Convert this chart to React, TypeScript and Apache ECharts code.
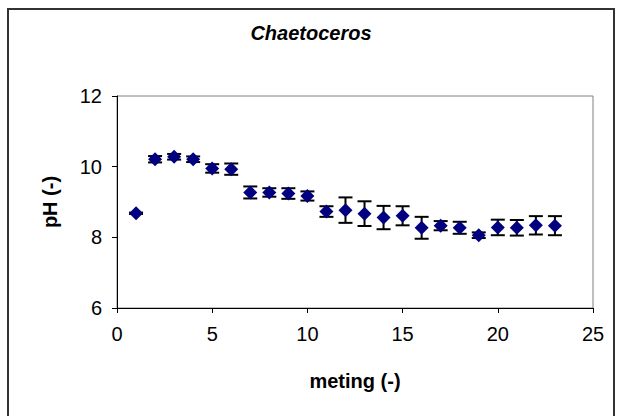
import React, { useEffect, useRef } from "react";
import * as echarts from "echarts";

const meting = [1, 2, 3, 4, 5, 6, 7, 8, 9, 10, 11, 12, 13, 14, 15, 16, 17, 18, 19, 20, 21, 22, 23];
const phValues = [8.68, 10.21, 10.28, 10.21, 9.95, 9.93, 9.27, 9.27, 9.24, 9.17, 8.73, 8.77, 8.67, 8.56, 8.61, 8.27, 8.33, 8.27, 8.06, 8.28, 8.27, 8.34, 8.33];
const phErrors = [0.02, 0.09, 0.08, 0.08, 0.12, 0.16, 0.17, 0.12, 0.15, 0.13, 0.15, 0.36, 0.35, 0.33, 0.27, 0.31, 0.13, 0.17, 0.08, 0.22, 0.22, 0.26, 0.27];
const xTicks = { min: 0, max: 25, interval: 5 };
const yTicks = { min: 6, max: 12, interval: 2 };
const titleText = "Chaetoceros";
const xLabel = "meting (-)";
const yLabel = "pH (-)";

const FONT = "'Liberation Sans', Arial, sans-serif";

export default function App() {
  const ref = useRef<HTMLDivElement>(null);
  useEffect(() => {
    if (!ref.current) return;
    const chart = echarts.init(ref.current, undefined, { renderer: "svg" });
    const errData = meting.map((m, i) => [m, phValues[i] - phErrors[i], phValues[i] + phErrors[i]]);
    chart.setOption({
      animation: false,
      backgroundColor: "#ffffff",
      grid: {
        left: 117,
        right: 25,
        top: 96,
        bottom: 108,
        show: true,
        borderColor: "#808080",
        borderWidth: 1,
        backgroundColor: "transparent",
      },
      graphic: [
        {
          type: "rect",
          shape: { x: 8, y: 9, width: 606, height: 430 },
          style: { fill: "none", stroke: "#333333", lineWidth: 2 },
          silent: true,
        },
        {
          type: "text",
          x: 311,
          y: 33,
          style: {
            text: titleText,
            font: `italic bold 20px ${FONT}`,
            fill: "#000",
            textAlign: "center",
            textVerticalAlign: "middle",
          },
        },
        {
          type: "text",
          x: 355,
          y: 381,
          style: {
            text: xLabel,
            font: `bold 20px ${FONT}`,
            fill: "#000",
            textAlign: "center",
            textVerticalAlign: "middle",
          },
        },
        {
          type: "text",
          x: 50,
          y: 202,
          rotation: Math.PI / 2,
          style: {
            text: yLabel,
            font: `bold 20px ${FONT}`,
            fill: "#000",
            textAlign: "center",
            textVerticalAlign: "middle",
          },
        },
      ],
      xAxis: {
        type: "value",
        min: xTicks.min,
        max: xTicks.max,
        interval: xTicks.interval,
        axisLine: { show: true, onZero: false, lineStyle: { color: "#000", width: 1 } },
        axisTick: { show: true, inside: false, length: 5, lineStyle: { color: "#000" } },
        axisLabel: { color: "#000", fontSize: 20, fontFamily: FONT, margin: 16 },
        splitLine: { show: false },
      },
      yAxis: {
        type: "value",
        min: yTicks.min,
        max: yTicks.max,
        interval: yTicks.interval,
        axisLine: { show: true, onZero: false, lineStyle: { color: "#000", width: 1 } },
        axisTick: { show: true, inside: false, length: 5, lineStyle: { color: "#000" } },
        axisLabel: { color: "#000", fontSize: 20, fontFamily: FONT, margin: 15 },
        splitLine: { show: false },
      },
      series: [
        {
          type: "custom",
          data: errData,
          z: 2,
          renderItem: (params: any, api: any) => {
            const x = api.value(0);
            const lo = api.coord([x, api.value(1)]);
            const hi = api.coord([x, api.value(2)]);
            const hw = 7;
            const style = { stroke: "#000", lineWidth: 2 };
            return {
              type: "group",
              children: [
                { type: "line", shape: { x1: lo[0], y1: lo[1], x2: hi[0], y2: hi[1] }, style },
                { type: "line", shape: { x1: lo[0] - hw, y1: lo[1], x2: lo[0] + hw, y2: lo[1] }, style },
                { type: "line", shape: { x1: hi[0] - hw, y1: hi[1], x2: hi[0] + hw, y2: hi[1] }, style },
              ],
            };
          },
        },
        {
          type: "scatter",
          data: meting.map((m, i) => [m, phValues[i]]),
          symbol: "diamond",
          symbolSize: [14, 14],
          z: 3,
          itemStyle: { color: "#000080", opacity: 1 },
        },
      ],
    });
    return () => chart.dispose();
  }, []);
  return <div ref={ref} style={{ width: 618, height: 416, position: "absolute", left: 0, top: 0 }} />;
}
